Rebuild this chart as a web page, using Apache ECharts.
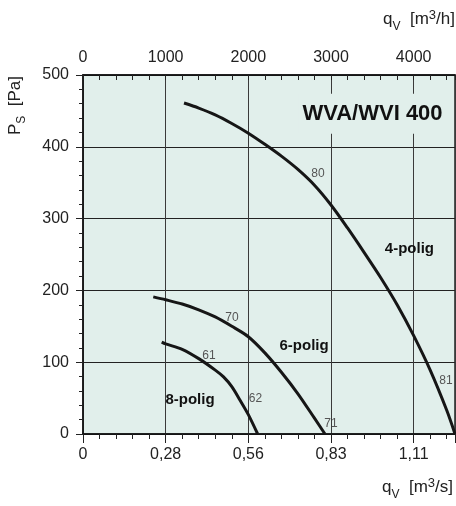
<!DOCTYPE html>
<html>
<head>
<meta charset="utf-8">
<script src="https://cdn.jsdelivr.net/npm/echarts@6/dist/echarts.min.js"></script>
<style>html,body{margin:0;padding:0;background:#fff}#c{width:456px;height:506px}</style>
</head>
<body>
<div id="c"></div>
<script>
// Data (x in m³/h, y in Pa)
var topTicks = [0, 1000, 2000, 3000, 4000];
var bottomTickLabels = ['0', '0,28', '0,56', '0,83', '1,11'];
var yTicks = [0, 100, 200, 300, 400, 500];

var curve4 = [[1222,461],[1400,454],[1600,444.5],[1800,432.5],[2000,419],[2200,403.5],[2400,387],[2600,368.5],[2800,346.5],[3000,319],[3200,287],[3400,253],[3600,218],[3800,180],[4000,137],[4200,89],[4400,33],[4500,0]];
var curve6 = [[850,191],[1000,187],[1200,181],[1400,173],[1600,163],[1800,150],[2000,135.5],[2200,113],[2400,86],[2600,56],[2800,22],[2927,0]];
var curve8 = [[952,128],[1000,125.5],[1200,118],[1400,105],[1600,89],[1700,79.5],[1800,66],[1900,47],[2000,27],[2113,0]];

var numLabels = [['80',2843,363],['81',4391,74],['70',1802,162],['71',3000,15],['61',1524,109],['62',2087,49]];
var poligLabels = [['4-polig',3949,258],['6-polig',2674,123],['8-polig',1294,47]];
var titleText = 'WVA/WVI 400';
var titlePos = [3502, 446];

var FONT = '"Liberation Sans", Arial, Helvetica, sans-serif';
var chart = echarts.init(document.getElementById('c'));

function curveSeries(data) {
  return {
    type: 'line', xAxisIndex: 0, yAxisIndex: 0, data: data, smooth: 0.3,
    showSymbol: false, symbol: 'none', silent: true,
    lineStyle: { color: '#161616', width: 3, join: 'round' }, z: 5
  };
}

function axisName(unit) {
  return {
    text: '{a|q}{s|V}{a|  [m}{p|3}{a|/' + unit + ']}',
    rich: {
      a: { fontSize: 17, fontFamily: FONT, fill: '#222', lineHeight: 24, verticalAlign: 'bottom', padding: [0, 0, 5, 0] },
      s: { fontSize: 12, fontFamily: FONT, fill: '#222', verticalAlign: 'bottom' },
      p: { fontSize: 13, fontFamily: FONT, fill: '#222', verticalAlign: 'top' }
    }
  };
}

var option = {
  animation: false,
  textStyle: { fontFamily: FONT },
  grid: { left: 83, top: 75, right: 1, bottom: 72, show: true, backgroundColor: '#e1efeb', borderColor: '#222', borderWidth: 1.5 },
  xAxis: [
    {
      type: 'value', position: 'bottom', min: 0, max: 4500, interval: 1000,
      axisLine: { show: true, lineStyle: { color: '#111', width: 1.5 } },
      axisTick: { show: true, inside: false, length: 9, lineStyle: { color: '#222' } },
      minorTick: { show: true, splitNumber: 5, length: 5, lineStyle: { color: '#222' } },
      splitLine: { show: true, lineStyle: { color: '#3a3a3a', width: 1 } },
      axisLabel: {
        show: true, showMaxLabel: false, margin: 13, color: '#222', fontSize: 16, fontFamily: FONT,
        formatter: function (v) { var i = topTicks.indexOf(v); return i >= 0 ? bottomTickLabels[i] : ''; }
      }
    },
    {
      type: 'value', position: 'top', min: 0, max: 4500, interval: 1000,
      axisLine: { show: true, lineStyle: { color: '#111', width: 1.5 } },
      axisTick: { show: true, inside: true, length: 5, lineStyle: { color: '#222' } },
      minorTick: { show: true, splitNumber: 5, length: 5, lineStyle: { color: '#222' } },
      splitLine: { show: false },
      axisLabel: {
        show: true, showMaxLabel: false, margin: 9, color: '#222', fontSize: 16, fontFamily: FONT,
        formatter: function (v) { return topTicks.indexOf(v) >= 0 ? String(v) : ''; }
      }
    }
  ],
  yAxis: {
    type: 'value', min: 0, max: 500, interval: 100,
    axisLine: { show: true, lineStyle: { color: '#111', width: 1.5 } },
    axisTick: { show: true, inside: false, length: 7, lineStyle: { color: '#222' } },
    minorTick: { show: true, splitNumber: 5, length: 4, lineStyle: { color: '#222' } },
    splitLine: { show: true, lineStyle: { color: '#222', width: 1 } },
    axisLabel: {
      margin: 14, color: '#222', fontSize: 16, fontFamily: FONT,
      formatter: function (v) { return yTicks.indexOf(v) >= 0 ? String(v) : ''; }
    }
  },
  graphic: [
    { type: 'text', right: 1, top: 9, z: 100, style: axisName('h') },
    { type: 'text', right: 3, top: 477, z: 100, style: axisName('s') },
    {
      type: 'text', x: 6, y: 135, rotation: Math.PI / 2, z: 100,
      style: {
        text: '{a|P}{s|S}{a|  [Pa]}',
        rich: {
          a: { fontSize: 17, fontFamily: FONT, fill: '#222', lineHeight: 22, verticalAlign: 'bottom', padding: [0, 0, 4, 0] },
          s: { fontSize: 12, fontFamily: FONT, fill: '#222', verticalAlign: 'bottom' }
        }
      }
    }
  ],
  series: [
    curveSeries(curve4),
    curveSeries(curve6),
    curveSeries(curve8),
    {
      type: 'scatter', xAxisIndex: 0, yAxisIndex: 0, symbolSize: 0, silent: true, z: 6, itemStyle: { opacity: 1 },
      data: numLabels.map(function (d) { return { value: [d[1], d[2]], name: d[0] }; }),
      label: { show: true, position: 'inside', formatter: '{b}', color: '#555', fontSize: 12, fontFamily: FONT }
    },
    {
      type: 'scatter', xAxisIndex: 0, yAxisIndex: 0, symbolSize: 0, silent: true, z: 6, itemStyle: { opacity: 1 },
      data: poligLabels.map(function (d) { return { value: [d[1], d[2]], name: d[0] }; }),
      label: { show: true, position: 'inside', formatter: '{b}', color: '#111', fontSize: 15, fontWeight: 'bold', fontFamily: FONT }
    },
    {
      type: 'scatter', xAxisIndex: 0, yAxisIndex: 0, symbolSize: 0, silent: true, z: 7, itemStyle: { opacity: 1 },
      data: [{ value: titlePos, name: titleText }],
      label: {
        show: true, position: 'inside', formatter: '{b}', color: '#111', fontSize: 22, fontWeight: 'bold', fontFamily: FONT,
        backgroundColor: '#e1efeb', padding: [9, 4, 9, 4]
      }
    }
  ]
};
chart.setOption(option);
</script>
</body>
</html>
